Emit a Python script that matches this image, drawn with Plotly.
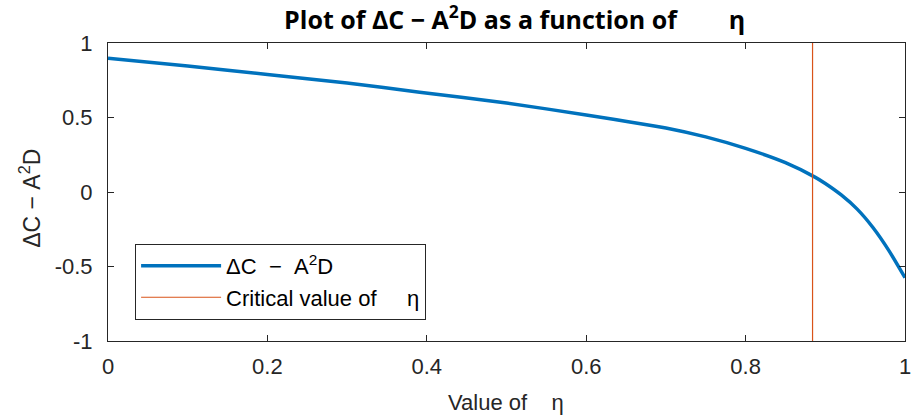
import plotly.graph_objects as go

eta = [0.0, 0.1, 0.2, 0.3, 0.391, 0.5, 0.6, 0.7, 0.75, 0.8, 0.85, 0.887, 0.9, 0.92, 0.94, 0.96, 0.98, 1.0]
val = [0.897, 0.845, 0.789, 0.731, 0.670, 0.597, 0.517, 0.43, 0.37, 0.293, 0.197, 0.10, 0.057, -0.02, -0.115, -0.24, -0.395, -0.575]
critical_eta = 0.884

NB = "\u00a0"
fig = go.Figure()
fig.add_trace(go.Scatter(x=eta, y=val, mode="lines",
                         line=dict(color="#0072BD", width=3.5, shape="spline", smoothing=0.6),
                         name="ΔC" + NB * 2 + "−" + NB * 2 + "A<sup>2</sup>D"))
fig.add_trace(go.Scatter(x=[critical_eta, critical_eta], y=[-1, 1], mode="lines",
                         line=dict(color="#D95319", width=1.2),
                         name="Critical value of" + NB * 5 + "η"))

axis_common = dict(showline=True, linecolor="#262626", linewidth=1, mirror="ticks", ticks="inside", ticklen=6,
                   tickcolor="#262626", showgrid=False, zeroline=False, automargin=False,
                   ticklabeloverflow="allow", tickfont=dict(size=22, color="#262626"))
fig.update_layout(
    width=911, height=417,
    margin=dict(l=108, r=6, t=43, b=76),
    paper_bgcolor="white", plot_bgcolor="white",
    font=dict(family="Liberation Sans, Arial, sans-serif", color="#262626"),
    title=dict(text="<b>Plot of ΔC" + NB + "−" + NB + "A<sup>2</sup>D as a function of" + NB * 8 + "η</b>",
               x=0.565, xanchor="center", y=0.952, yanchor="middle",
               font=dict(family="Open Sans, DejaVu Sans, sans-serif", size=25, color="black")),
    xaxis=dict(range=[0, 1], tickvals=[0, 0.2, 0.4, 0.6, 0.8, 1],
               ticktext=["0", "0.2", "0.4", "0.6", "0.8", "1"], ticklabelstandoff=6, **axis_common),
    yaxis=dict(range=[-1, 1], tickvals=[-1, -0.5, 0, 0.5, 1],
               ticktext=["-1", "-0.5", "0", "0.5", "1"], ticklabelstandoff=10, **axis_common),
    legend=dict(x=0.034, y=0.326, xanchor="left", yanchor="top", bgcolor="white", bordercolor="#262626",
                borderwidth=1, font=dict(size=22, color="black"), tracegroupgap=0, itemwidth=80),
    showlegend=True,
    annotations=[
        dict(text="Value of" + NB * 4 + "η", xref="paper", yref="paper", x=0.4994, y=-0.205,
             xanchor="center", yanchor="middle", showarrow=False, font=dict(size=22, color="#262626")),
        dict(text="ΔC" + NB + "−" + NB + "A<sup>2</sup>D", xref="paper", yref="paper", x=-0.098, y=0.48,
             textangle=-90, xanchor="center", yanchor="middle", showarrow=False,
             font=dict(size=23, color="#262626")),
    ],
)
fig.write_html("out.html", config={"displayModeBar": False},
               post_script="document.body.style.margin='0px';document.body.style.overflow='hidden';")
